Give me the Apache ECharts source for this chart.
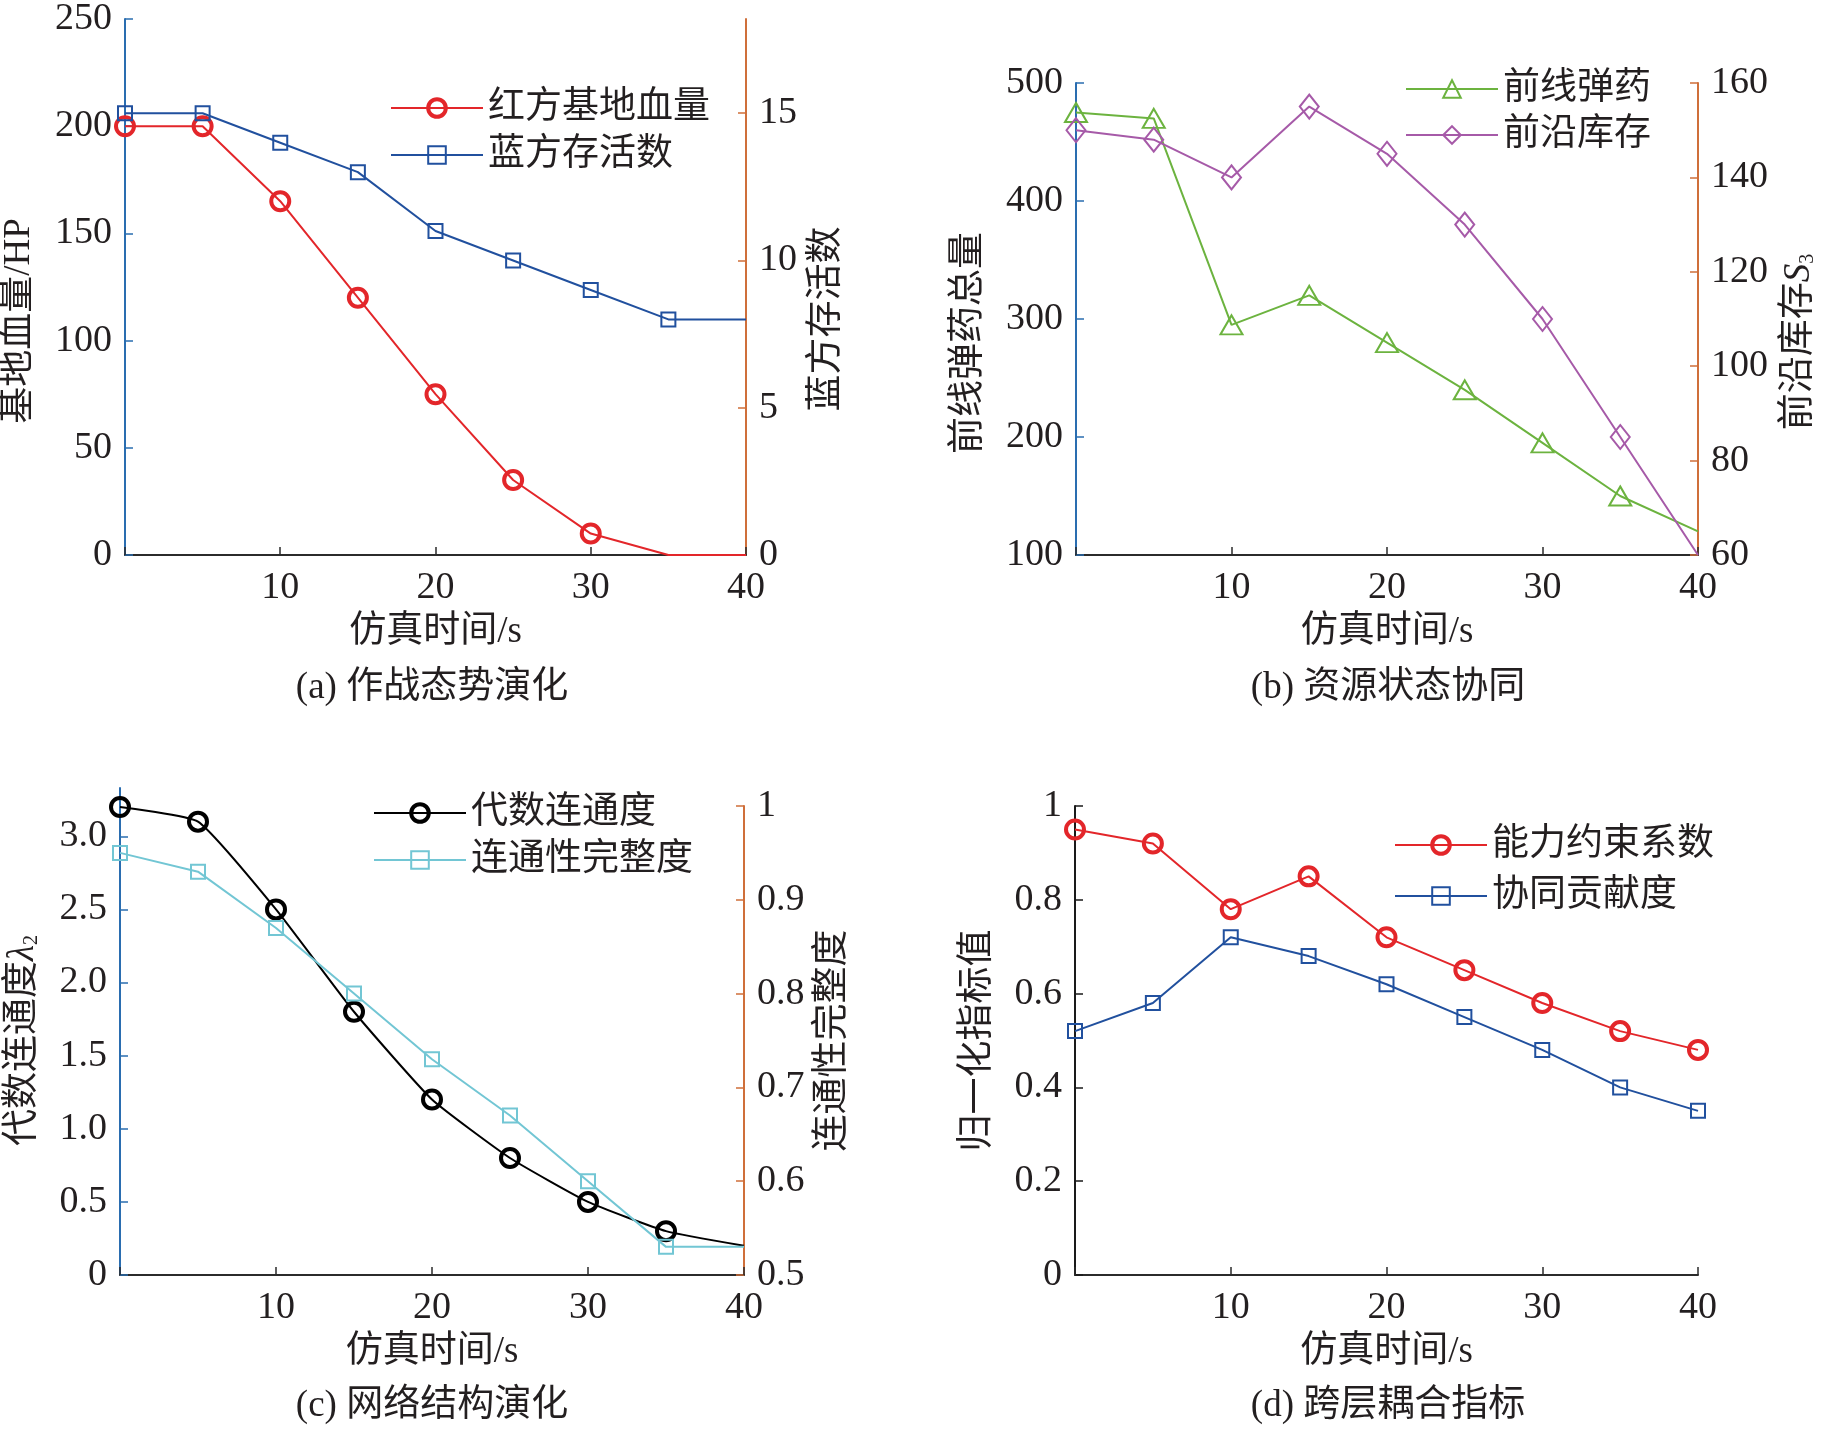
<!DOCTYPE html>
<html>
<head>
<meta charset="utf-8">
<script src="https://cdn.jsdelivr.net/npm/echarts@6/dist/echarts.min.js"></script>
<style>html,body{margin:0;background:#fff}#chart{width:1834px;height:1433px}</style>
</head>
<body>
<div id="chart"></div>
<script>
var time = [0, 5, 10, 15, 20, 25, 30, 35, 40];
// (a) combat situation
var redBaseHp = [200, 200, 165, 120, 75, 35, 10, 0, 0];
var blueAlive = [15, 15, 14, 13, 11, 10, 9, 8, 8];
// (b) resources
var frontAmmo = [475, 470, 295, 320, 280, 240, 195, 150, 120];
var frontStock = [150, 148, 140, 155, 145, 130, 110, 85, 60];
// (c) network structure
var algConn = [3.2, 3.1, 2.5, 1.8, 1.2, 0.8, 0.5, 0.3, 0.2];
var connInteg = [0.95, 0.93, 0.87, 0.80, 0.73, 0.67, 0.60, 0.53, 0.53];
// (d) cross-layer coupling
var capConstraint = [0.95, 0.92, 0.78, 0.85, 0.72, 0.65, 0.58, 0.52, 0.48];
var synergy = [0.52, 0.58, 0.72, 0.68, 0.62, 0.55, 0.48, 0.40, 0.35];

// tick labels
var xTicks = [10, 20, 30, 40];
var aRightTicks = [0, 5, 10, 15];
var cLeftTicks = [0, 0.5, 1.0, 1.5, 2.0, 2.5, 3.0];

var FONT = "'Liberation Serif', 'Noto Sans CJK SC', serif";
var INK = '#231f20';
var AXIS_BLUE = '#2a6db0', AXIS_ORANGE = '#cf6f3a', AXIS_DARK = '#2b2b2b';
var FS = 37, NUM = 38;
var RICH = {
    it: {fontFamily: FONT, fontSize: FS, fontStyle: 'italic', color: INK},
    sub: {fontFamily: FONT, fontSize: 20, color: INK, verticalAlign: 'bottom', lineHeight: 18}
};

// points past nMarked get no marker
function pts(vals, nMarked, bw) {
    return vals.map(function (v, i) {
        var p = {value: [time[i], v], itemStyle: {borderWidth: bw}};
        if (i >= nMarked) p.symbol = 'none';
        return p;
    });
}

function xAxisFor(grid, show) {
    return {
        type: 'value', gridIndex: grid, min: 0, max: 40, interval: 10, show: show !== false,
        name: '仿真时间/s', nameLocation: 'middle', nameGap: 59,
        nameTextStyle: {fontFamily: FONT, fontSize: FS, color: INK},
        axisLine: {lineStyle: {color: AXIS_DARK, width: 2}},
        axisTick: {inside: true, length: 8, lineStyle: {color: AXIS_DARK, width: 1.5}},
        axisLabel: {margin: 14, fontFamily: FONT, fontSize: NUM, color: INK, customValues: xTicks},
        splitLine: {show: false}
    };
}

function yAxisFor(o) {
    var label = {margin: 13, fontFamily: FONT, fontSize: NUM, color: INK};
    var tick = {inside: true, length: 8, lineStyle: {color: o.color, width: 1.5}};
    if (o.fmt) label.formatter = o.fmt;
    if (o.ticks) { label.customValues = o.ticks; tick.customValues = o.ticks; }
    return {
        type: 'value', gridIndex: o.grid, position: o.pos, min: o.min, max: o.max, interval: o.interval,
        name: o.name, nameLocation: 'middle', nameGap: o.gap, nameRotate: 90,
        nameTextStyle: {fontFamily: FONT, fontSize: FS, color: INK, padding: [0, o.shift || 0, 0, 0], rich: RICH},
        axisLine: {show: true, onZero: false, lineStyle: {color: o.color, width: 2}},
        axisTick: tick,
        axisLabel: label,
        splitLine: {show: false}
    };
}

function line(name, xi, yi, vals, nMarked, color, symbol, size, bw, extra) {
    var s = {
        name: name, type: 'line', xAxisIndex: xi, yAxisIndex: yi,
        data: pts(vals, nMarked, bw), clip: false,
        symbol: symbol, symbolSize: size, showAllSymbol: true,
        lineStyle: {color: color, width: 2},
        itemStyle: {color: 'rgba(255,255,255,0)', borderColor: color, borderWidth: bw},
        emphasis: {disabled: true}
    };
    for (var k in extra || {}) s[k] = extra[k];
    return s;
}

// legend entries: [name, marker stroke width]
function legendFor(entries, left, top, gap) {
    return {
        data: entries.map(function (e) {
            return {name: e[0], itemStyle: {borderWidth: e[1], color: 'rgba(255,255,255,0)'}};
        }),
        orient: 'vertical', left: left, top: top, itemGap: gap,
        itemWidth: 92, itemHeight: 22, selectedMode: false,
        textStyle: {fontFamily: FONT, fontSize: FS, color: INK, lineHeight: 40}
    };
}

function caption(text, cx, cy) {
    return {
        text: text, left: cx, top: cy - 18, textAlign: 'center', padding: 0,
        textStyle: {fontFamily: FONT, fontSize: FS, fontWeight: 'normal', color: INK}
    };
}

var chart = echarts.init(document.getElementById('chart'));
chart.setOption({
    backgroundColor: '#fff',
    animation: false,
    title: [
        caption('(a) 作战态势演化', 432, 688),
        caption('(b) 资源状态协同', 1388, 688),
        caption('(c) 网络结构演化', 432, 1406),
        caption('(d) 跨层耦合指标', 1388, 1406)
    ],
    legend: [
        legendFor([['红方基地血量', 4], ['蓝方存活数', 2]], 385, 83, 7),
        legendFor([['前线弹药', 2], ['前沿库存', 2]], 1400, 64, 6),
        legendFor([['代数连通度', 4], ['连通性完整度', 2]], 368, 788, 7),
        legendFor([['能力约束系数', 4], ['协同贡献度', 2]], 1389, 820, 11)
    ],
    grid: [
        {left: 120, top: 19, width: 626, height: 536},
        {left: 1076, top: 83, width: 622, height: 472},
        {left: 120, top: 788, width: 624, height: 487},
        {left: 120, top: 806, width: 624, height: 469},
        {left: 1075, top: 806, width: 623, height: 469}
    ],
    xAxis: [xAxisFor(0), xAxisFor(1), xAxisFor(2), xAxisFor(3, false), xAxisFor(4)],
    yAxis: [
        yAxisFor({grid: 0, pos: 'left', min: 0, max: 250, interval: 50, color: AXIS_BLUE,
            name: '基地血量/HP', gap: 87, shift: 68}),
        yAxisFor({grid: 0, pos: 'right', min: 0, max: 18.2, interval: 5, color: AXIS_ORANGE,
            name: '蓝方存活数', gap: 63, shift: 64, ticks: aRightTicks}),
        yAxisFor({grid: 1, pos: 'left', min: 100, max: 500, interval: 100, color: AXIS_BLUE,
            name: '前线弹药总量', gap: 88, shift: 48}),
        yAxisFor({grid: 1, pos: 'right', min: 60, max: 160, interval: 20, color: AXIS_ORANGE,
            name: '前沿库存{it|S}{sub|3}', gap: 83, shift: 46}),
        yAxisFor({grid: 2, pos: 'left', min: 0, max: 3.33, interval: 0.5, color: AXIS_BLUE,
            name: '代数连通度{it|λ}{sub|2}', gap: 78, shift: 18, ticks: cLeftTicks,
            fmt: function (v) { return v === 0 ? '0' : v.toFixed(1); }}),
        yAxisFor({grid: 3, pos: 'right', min: 0.5, max: 1, interval: 0.1, color: AXIS_ORANGE,
            name: '连通性完整度', gap: 71,
            fmt: function (v) { return v === 1 ? '1' : v.toFixed(1); }}),
        yAxisFor({grid: 4, pos: 'left', min: 0, max: 1, interval: 0.2, color: '#1a1a1a',
            name: '归一化指标值', gap: 78,
            fmt: function (v) { return (v === 0 || v === 1) ? String(v) : v.toFixed(1); }})
    ],
    series: [
        line('红方基地血量', 0, 0, redBaseHp, 7, '#e3262a', 'circle', 18, 4),
        line('蓝方存活数', 0, 1, blueAlive, 8, '#21509e', 'rect', 14, 2),
        line('前线弹药', 1, 2, frontAmmo, 8, '#6cb33f', 'triangle', [22, 19], 2),
        line('前沿库存', 1, 3, frontStock, 8, '#a65aa8', 'diamond', [19, 24], 2),
        line('代数连通度', 2, 4, algConn, 8, '#000000', 'circle', 18, 4, {smooth: 0.15}),
        line('连通性完整度', 3, 5, connInteg, 8, '#72c6d4', 'rect', 14, 2),
        line('能力约束系数', 4, 6, capConstraint, 9, '#e3262a', 'circle', 18, 4),
        line('协同贡献度', 4, 6, synergy, 9, '#21509e', 'rect', 14, 2)
    ]
});
</script>
</body>
</html>
